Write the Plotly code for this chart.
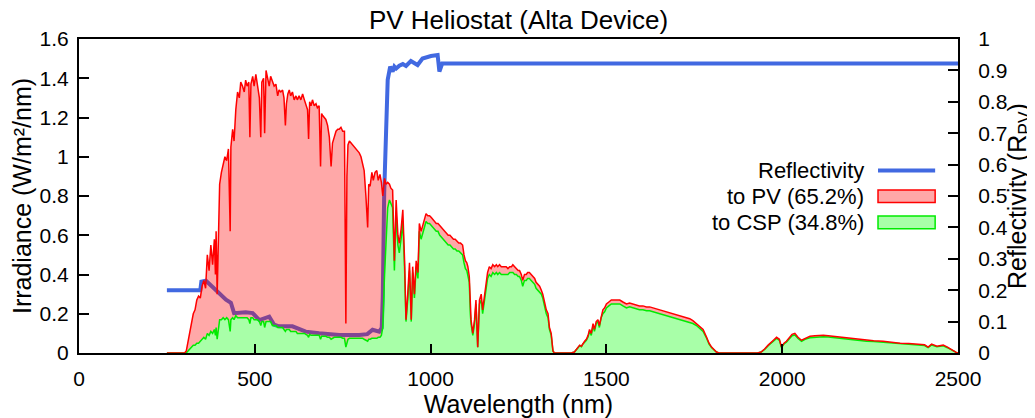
#PV Heliostat - spectral split between PV and CSP

import plotly.graph_objects as go

# wavelength grid (nm), total irradiance (W/m2/nm) and the part sent to CSP
wavelength = [
    250, 280, 300, 305, 310, 315, 320, 325, 330, 335,
    340, 345, 350, 355, 360, 365, 370, 375, 380, 385,
    388, 390, 393, 396, 400, 405, 410, 415, 420, 425,
    430, 432, 437, 441, 446, 451, 456, 460, 465, 470,
    474, 478, 483, 486, 489, 494, 498, 503, 508, 513,
    517, 520, 525, 528, 532, 536, 541, 545, 550, 555,
    560, 565, 569, 574, 579, 583, 587, 590, 594, 598,
    602, 607, 612, 617, 621, 626, 631, 636, 641, 645,
    650, 653, 656, 660, 664, 669, 674, 678, 683, 687,
    690, 693, 698, 702, 707, 712, 717, 721, 726, 731,
    736, 740, 745, 750, 755, 759, 762, 765, 769, 774,
    779, 783, 788, 793, 797, 802, 807, 811, 816, 821,
    824, 828, 833, 837, 842, 847, 851, 856, 860, 864,
    869, 873, 878, 883, 887, 892, 897, 902, 907, 911,
    916, 921, 926, 930, 935, 940, 945, 949, 954, 959,
    964, 968, 973, 978, 982, 987, 992, 997, 1002, 1007,
    1012, 1016, 1021, 1026, 1031, 1036, 1040, 1044, 1050, 1055,
    1060, 1065, 1070, 1075, 1080, 1085, 1091, 1095, 1099, 1103,
    1106, 1110, 1113, 1115, 1120, 1125, 1129, 1134, 1139, 1144,
    1148, 1153, 1158, 1162, 1167, 1172, 1177, 1182, 1187, 1191,
    1196, 1201, 1206, 1210, 1215, 1220, 1225, 1230, 1234, 1239,
    1244, 1249, 1253, 1258, 1262, 1267, 1272, 1276, 1281, 1286,
    1291, 1296, 1300, 1305, 1310, 1315, 1319, 1324, 1329, 1334,
    1338, 1343, 1348, 1352, 1400, 1409, 1414, 1419, 1424, 1429,
    1433, 1438, 1443, 1448, 1452, 1457, 1462, 1466, 1471, 1476,
    1480, 1485, 1490, 1495, 1500, 1507, 1514, 1521, 1528, 1538,
    1547, 1557, 1566, 1575, 1585, 1594, 1604, 1614, 1623, 1633,
    1642, 1652, 1661, 1670, 1680, 1689, 1699, 1708, 1718, 1727,
    1737, 1746, 1756, 1766, 1775, 1785, 1792, 1799, 1806, 1813,
    1820, 1930, 1940, 1950, 1960, 1967, 1975, 1984, 1992, 1998,
    2005, 2012, 2020, 2028, 2036, 2045, 2055, 2065, 2079, 2093,
    2107, 2117, 2131, 2145, 2160, 2175, 2193, 2210, 2225, 2240,
    2260, 2287, 2310, 2335, 2360, 2382, 2405, 2415, 2425, 2440,
    2458, 2470, 2487, 2495, 2500,
]

irr_total = [
    0, 0, 0, .01, .06, .10, .15, .20, .22, .27,
    .29, .28, .34, .37, .33, .50, .42, .55, .45, .58,
    .40, .62, .30, .55, .86, .92, .97, 1.00, .98, 1.04,
    .62, 1.05, 1.14, 1.08, 1.24, 1.33, 1.30, 1.38, 1.36, 1.33,
    1.39, 1.36, 1.38, 1.10, 1.37, 1.41, 1.36, 1.42, 1.36, 1.30,
    1.10, 1.38, 1.40, 1.12, 1.44, 1.40, 1.36, 1.41, 1.38, 1.36,
    1.37, 1.31, 1.34, 1.33, 1.34, 1.30, 1.16, 1.27, 1.32, 1.34,
    1.31, 1.33, 1.29, 1.31, 1.29, 1.31, 1.29, 1.32, 1.29, 1.27,
    1.24, 1.09, 1.28, 1.26, 1.29, 1.26, 1.27, 1.25, 1.26, .95,
    1.22, 1.21, 1.20, 1.19, 1.16, 1.10, .95, 1.07, 1.10, 1.13,
    1.14, 1.14, 1.15, 1.13, 1.13, .15, .90, 1.06, 1.08, 1.07,
    1.06, 1.05, 1.04, 1.03, 1.02, 1.00, .96, .93, .80, .64,
    .86, .85, .92, .88, .92, .93, .88, .91, .87, .80,
    .89, .86, .87, .86, .84, .83, .47, .78, .60, .56,
    .63, .73, .47, .17, .30, .46, .17, .44, .30, .47,
    .41, .66, .62, .65, .68, .71, .70, .70, .69, .68,
    .67, .66, .66, .65, .64, .63, .62, .61, .60, .60,
    .59, .58, .58, .57, .56, .56, .55, .50, .47, .46,
    .44, .39, .22, .17, .10, .17, .27, .03, .27, .30,
    .22, .28, .36, .41, .44, .43, .45, .44, .45, .44,
    .45, .44, .44, .44, .44, .43, .44, .44, .45, .44,
    .43, .42, .42, .40, .37, .40, .40, .41, .41, .40,
    .39, .38, .36, .35, .34, .32, .30, .26, .22, .20,
    .13, .10, .01, 0, 0, .005, .015, .03, .04, .035,
    .05, .06, .07, .09, .12, .10, .15, .12, .16, .17,
    .14, .19, .22, .23, .25, .26, .27, .27, .27, .27,
    .26, .25, .255, .25, .245, .24, .24, .235, .235, .23,
    .225, .22, .215, .21, .205, .20, .195, .19, .185, .18,
    .175, .165, .15, .135, .12, .08, .05, .03, .015, .005,
    0, 0, .005, .02, .04, .05, .065, .08, .07, .03,
    .05, .06, .08, .095, .10, .08, .065, .075, .085, .088,
    .09, .09, .088, .085, .084, .08, .075, .072, .068, .065,
    .063, .06, .055, .05, .048, .045, .042, .03, .045, .035,
    .04, .03, .01, .003, 0,
]

irr_csp = [
    0, 0, 0, 0, .01, .02, .03, .04, .04, .05,
    .05, .06, .07, .08, .07, .10, .09, .11, .10, .12,
    .09, .13, .07, .12, .17, .17, .18, .17, .18, .17,
    .11, .17, .18, .17, .19, .18, .18, .18, .18, .18,
    .18, .18, .17, .15, .18, .18, .17, .17, .17, .16,
    .14, .16, .16, .13, .16, .16, .16, .16, .14, .14,
    .14, .13, .13, .13, .13, .12, .11, .12, .12, .12,
    .11, .11, .11, .11, .10, .10, .10, .10, .10, .095,
    .09, .08, .095, .09, .09, .09, .09, .09, .09, .07,
    .085, .085, .085, .085, .08, .08, .07, .075, .08, .08,
    .08, .08, .08, .075, .075, .03, .06, .07, .075, .075,
    .075, .075, .075, .075, .075, .075, .075, .07, .065, .06,
    .07, .07, .075, .075, .075, .075, .08, .08, .09, .13,
    .40, .54, .74, .78, .76, .74, .42, .71, .55, .51,
    .58, .67, .43, .16, .27, .42, .16, .41, .28, .44,
    .38, .62, .58, .61, .64, .67, .66, .66, .65, .64,
    .63, .62, .62, .60, .59, .58, .57, .56, .55, .55,
    .54, .53, .53, .52, .52, .51, .50, .46, .43, .42,
    .40, .36, .20, .15, .09, .15, .25, .03, .25, .27,
    .20, .26, .33, .38, .40, .39, .41, .40, .41, .40,
    .41, .40, .40, .40, .40, .40, .41, .41, .41, .40,
    .40, .39, .39, .37, .34, .37, .37, .38, .38, .37,
    .36, .35, .33, .32, .31, .30, .28, .24, .20, .18,
    .12, .09, .01, 0, 0, .005, .014, .028, .037, .032,
    .046, .055, .065, .083, .11, .09, .14, .11, .15, .16,
    .13, .18, .20, .21, .23, .24, .25, .25, .25, .25,
    .24, .23, .235, .23, .225, .22, .22, .215, .215, .21,
    .205, .20, .195, .19, .185, .18, .175, .17, .165, .16,
    .155, .15, .14, .125, .11, .075, .045, .028, .014, .005,
    0, 0, .005, .018, .037, .046, .06, .074, .065, .028,
    .046, .055, .074, .088, .092, .074, .06, .07, .078, .081,
    .083, .083, .081, .078, .077, .074, .069, .066, .063, .06,
    .058, .055, .05, .046, .044, .041, .038, .027, .041, .032,
    .037, .027, .009, .003, 0,
]

# reflectivity of the PV heliostat
refl_wl = [250, 345, 348, 361, 380, 399, 418, 432, 441, 474,
           494, 513, 530, 541, 555, 569, 607, 645, 683, 740,
           797, 820, 835, 854, 861, 864, 868, 873, 878, 885,
           892, 897, 902, 911, 921, 930, 944, 963, 977, 1001,
           1020, 1025, 1033, 2500]
refl = [0.20, 0.20, 0.227, 0.23, 0.21, 0.19, 0.17, 0.16, 0.127, 0.13,
        0.127, 0.105, 0.11, 0.116, 0.09, 0.085, 0.085, 0.068, 0.063, 0.057,
        0.057, 0.06, 0.074, 0.068, 0.08, 0.18, 0.51, 0.72, 0.87, 0.912,
        0.896, 0.912, 0.906, 0.915, 0.92, 0.914, 0.93, 0.917, 0.938, 0.946,
        0.949, 0.896, 0.922, 0.922]

legend_labels = ["Reflectivity", "to PV (65.2%)", "to CSP (34.8%)"]

FONT = "Liberation Sans, Arial, sans-serif"

# the page body keeps its 8px default margin, so the figure is drawn 8px smaller
W, H = 1027, 410

fig = go.Figure()

# reflectivity sits on the base axis so the fills (overlay axis) are drawn on top of it
fig.add_trace(go.Scatter(
    x=refl_wl, y=refl, yaxis="y",
    name=legend_labels[0], mode="lines",
    line=dict(color="rgb(65,105,225)", width=4),
))

fig.add_trace(go.Scatter(
    x=wavelength, y=irr_csp, yaxis="y2",
    name=legend_labels[2], mode="lines",
    line=dict(color="rgb(0,235,0)", width=1.5),
    fill="tozeroy", fillcolor="rgba(0,255,0,0.34)",
))

fig.add_trace(go.Scatter(
    x=wavelength, y=irr_total, yaxis="y2",
    name=legend_labels[1], mode="lines",
    line=dict(color="rgb(255,0,0)", width=1.5),
    fill="tonexty", fillcolor="rgba(255,0,0,0.34)",
))

# hand made legend, gnuplot style (text on the left, sample on the right)
leg_y = [0.581, 0.499, 0.416]
shapes = [
    dict(type="line", xref="paper", yref="paper", x0=0.909, x1=0.974,
         y0=leg_y[0], y1=leg_y[0], line=dict(color="rgb(65,105,225)", width=4)),
    dict(type="rect", xref="paper", yref="paper", x0=0.909, x1=0.974,
         y0=leg_y[1] - 0.02, y1=leg_y[1] + 0.02,
         fillcolor="rgba(255,0,0,0.34)", line=dict(color="rgb(255,0,0)", width=1.5)),
    dict(type="rect", xref="paper", yref="paper", x0=0.909, x1=0.974,
         y0=leg_y[2] - 0.02, y1=leg_y[2] + 0.02,
         fillcolor="rgba(0,255,0,0.34)", line=dict(color="rgb(0,235,0)", width=1.5)),
]
annotations = []
for lab, yy in zip(legend_labels, leg_y):
    annotations.append(dict(
        text=lab, xref="paper", yref="paper", x=0.895, y=yy,
        xanchor="right", yanchor="middle", showarrow=False,
        font=dict(family=FONT, size=22, color="black"),
    ))

fig.update_layout(
    width=W, height=H,
    margin=dict(l=71, r=77, t=31, b=65, autoexpand=False),
    paper_bgcolor="white", plot_bgcolor="white",
    font=dict(family=FONT, size=21, color="black"),
    showlegend=False,
    title=dict(text="PV Heliostat (Alta Device)", x=0.5, xref="paper",
               y=1 - 12.0 / H, yref="container", yanchor="middle",
               font=dict(family=FONT, size=26, color="black")),
    xaxis=dict(
        range=[0, 2500], tickvals=[0, 500, 1000, 1500, 2000, 2500],
        ticks="inside", ticklen=9, tickwidth=1.5, tickcolor="black",
        showline=True, linecolor="black", linewidth=2, mirror=True,
        showgrid=False, zeroline=False, automargin=False,
        ticklabelstandoff=6,
        title=dict(text="Wavelength (nm)", standoff=4),
    ),
    yaxis=dict(
        side="right", range=[0, 1],
        tickvals=[0, 0.1, 0.2, 0.3, 0.4, 0.5, 0.6, 0.7, 0.8, 0.9, 1],
        ticktext=["0", "0.1", "0.2", "0.3", "0.4", "0.5", "0.6", "0.7", "0.8", "0.9", "1"],
        ticks="inside", ticklen=10, tickwidth=1.5, tickcolor="black",
        showline=True, linecolor="black", linewidth=2,
        showgrid=False, zeroline=False, automargin=False,
        ticklabelstandoff=14,
        title=dict(text="Reflectivity (R<sub>PV</sub>)", standoff=4),
    ),
    yaxis2=dict(
        side="left", overlaying="y", range=[0, 1.6],
        tickvals=[0, 0.2, 0.4, 0.6, 0.8, 1, 1.2, 1.4, 1.6],
        ticktext=["0", "0.2", "0.4", "0.6", "0.8", "1", "1.2", "1.4", "1.6"],
        ticks="inside", ticklen=10, tickwidth=1.5, tickcolor="black",
        showline=True, linecolor="black", linewidth=2,
        showgrid=False, zeroline=False, automargin=False,
        ticklabelstandoff=4,
        title=dict(text="Irradiance (W/m²/nm)", standoff=4),
    ),
    shapes=shapes,
    annotations=annotations,
)

fig.write_html("out.html")
